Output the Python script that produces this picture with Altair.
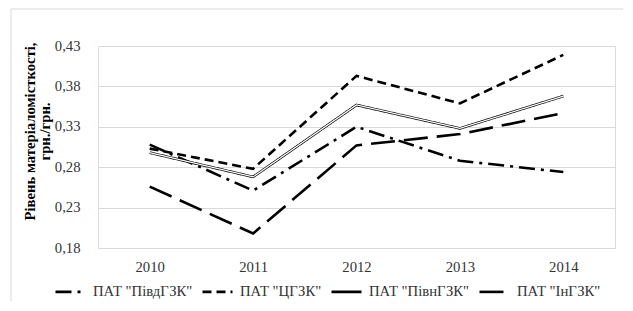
import altair as alt
import pandas as pd

years = ["2010", "2011", "2012", "2013", "2014"]
series_names = ['ПАТ "ПівдГЗК"', 'ПАТ "ЦГЗК"', 'ПАТ "ПівнГЗК"', 'ПАТ "ІнГЗК"']
pivd = [0.308, 0.251, 0.330, 0.288, 0.274]
tsgzk = [0.303, 0.278, 0.393, 0.359, 0.419]
pivn = [0.298, 0.268, 0.357, 0.328, 0.368]
ingzk = [0.256, 0.198, 0.307, 0.321, 0.347]
y_ticks = [0.18, 0.23, 0.28, 0.33, 0.38, 0.43]

rows = []
for name, vals in zip(series_names, [pivd, tsgzk, pivn, ingzk]):
    for yr, v in zip(years, vals):
        rows.append({"year": yr, "series": name, "value": v})
df = pd.DataFrame(rows)

FONT = "'Liberation Serif', 'Times New Roman', 'DejaVu Serif', serif"
FS = 14.7

x_enc = alt.X("year:N", sort=years, title=None,
              axis=alt.Axis(labelAngle=0, grid=False, domain=False, ticks=False, tickSize=0,
                            labelPadding=11, labelFont=FONT, labelFontSize=FS, labelColor="#333333"))
y_enc = alt.Y("value:Q", scale=alt.Scale(domain=[0.18, 0.43], nice=False, zero=False),
              axis=alt.Axis(values=y_ticks, grid=True, gridColor="#d9d9d9", domain=False,
                            ticks=False, tickSize=0, labelPadding=18, labelFont=FONT,
                            labelFontSize=FS, labelColor="#333333",
                            labelExpr="replace(format(datum.value, '.2f'), '.', ',')",
                            title=["Рівень матеріаломісткості,", "грн./грн."],
                            titleFont=FONT, titleFontSize=FS, titleFontWeight="bold",
                            titleColor="#000000", titleX=-68, titleY=85,
                            titleAlign="center", titleBaseline="middle", titleLineHeight=15))

frame = alt.Chart(alt.Data(values=[{}])).mark_rect(
    fill="transparent", stroke="#d9d9d9", strokeWidth=1
).encode(x=alt.value(-87), x2=alt.value(700), y=alt.value(-37), y2=alt.value(400))

lines = alt.Chart(df).mark_line(color="black").encode(
    x=x_enc,
    y=y_enc,
    strokeDash=alt.StrokeDash(
        "series:N",
        scale=alt.Scale(domain=series_names,
                        range=[[16, 6, 3, 6], [9, 5], [1, 0], [24, 9]]),
        legend=alt.Legend(title=None, orient="none", legendX=-44, legendY=229,
                          direction="horizontal", symbolType="stroke", symbolSize=900,
                          symbolStrokeWidth=2.5, symbolStrokeColor="black",
                          labelFont=FONT, labelFontSize=FS, labelColor="#333333",
                          labelOffset=6, columnPadding=4),
    ),
    strokeWidth=alt.StrokeWidth("series:N",
                                scale=alt.Scale(domain=series_names, range=[2.6, 2.6, 3.6, 2.6]),
                                legend=None),
)

inner = alt.Chart(df).transform_filter(
    alt.datum.series == 'ПАТ "ПівнГЗК"'
).mark_line(color="white", strokeWidth=1.2).encode(x=x_enc, y=y_enc)

chart = alt.layer(frame, lines, inner).properties(
    width=517, height=202,
    autosize=alt.AutoSizeParams(type="none"),
    padding={"left": 90, "top": 38, "right": 8, "bottom": 53},
).configure_view(strokeWidth=0).configure(background="white")

chart.save("out.html", embed_options={"renderer": "svg", "actions": False})
